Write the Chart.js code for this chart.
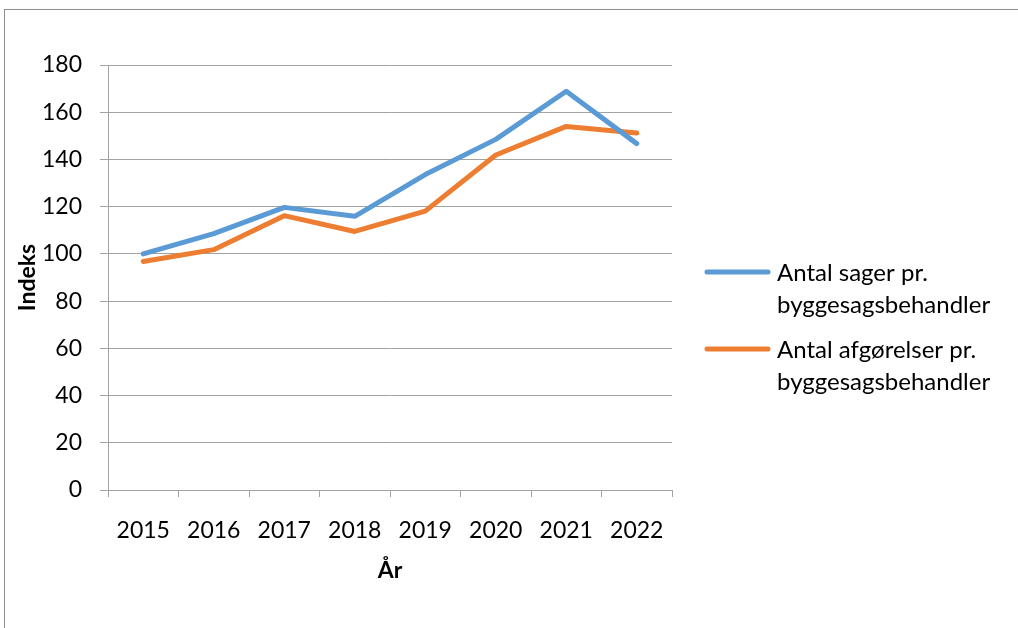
<!DOCTYPE html>
<html>
<head>
<meta charset="utf-8">
<script src="https://cdn.jsdelivr.net/npm/chart.js@4.4.0/dist/chart.umd.min.js"></script>
<style>
  html, body { margin: 0; padding: 0; background: #fff; }
</style>
</head>
<body>
<canvas id="chart" width="1018" height="628"></canvas>
<script>
const years = ["2015", "2016", "2017", "2018", "2019", "2020", "2021", "2022"];
const sagerPerBehandler = [100, 108.6, 119.7, 115.9, 133.6, 148.5, 168.9, 146.7];
const afgorelserPerBehandler = [96.8, 101.8, 116.2, 109.5, 118.1, 141.9, 154.0, 151.2];
const yTicks = [0, 20, 40, 60, 80, 100, 120, 140, 160, 180];
const seriesNames = [
  ["Antal sager pr.", "byggesagsbehandler"],
  ["Antal afgørelser pr.", "byggesagsbehandler"]
];

const FONT = "Lato";
const GRID = "#a3a3a3";

// ramme rundt om diagrammet
const frame = {
  id: "frame",
  beforeDraw(chart) {
    const { ctx } = chart;
    ctx.save();
    ctx.fillStyle = "#fff";
    ctx.fillRect(0, 0, chart.width, chart.height);
    ctx.strokeStyle = "#8f8f8f";
    ctx.lineWidth = 1;
    ctx.strokeRect(4.5, 9.5, chart.width + 20, chart.height + 20);
    ctx.restore();
  }
};

// legende til højre, to linjer pr. serie
const sideLegend = {
  id: "sideLegend",
  afterDraw(chart) {
    const { ctx } = chart;
    ctx.save();
    chart.data.datasets.forEach((ds, i) => {
      const y = 272 + i * 77;
      ctx.strokeStyle = ds.borderColor;
      ctx.lineWidth = 5;
      ctx.lineCap = "round";
      ctx.beginPath();
      ctx.moveTo(707, y);
      ctx.lineTo(768, y);
      ctx.stroke();
      ctx.fillStyle = "#000";
      ctx.font = `24px ${FONT}`;
      ctx.textBaseline = "middle";
      seriesNames[i].forEach((t, j) => ctx.fillText(t, 777, y + 1 + j * 32));
    });
    ctx.restore();
  }
};

new Chart(document.getElementById("chart"), {
  type: "line",
  data: {
    labels: years,
    datasets: [
      {
        label: seriesNames[0].join(" "),
        data: sagerPerBehandler,
        borderColor: "#5b9bd5",
        borderWidth: 5,
        borderCapStyle: "round",
        borderJoinStyle: "round",
        pointRadius: 0,
        tension: 0
      },
      {
        label: seriesNames[1].join(" "),
        data: afgorelserPerBehandler,
        borderColor: "#ed7d31",
        borderWidth: 5,
        borderCapStyle: "round",
        borderJoinStyle: "round",
        pointRadius: 0,
        tension: 0
      }
    ]
  },
  options: {
    responsive: false,
    animation: false,
    devicePixelRatio: 1,
    layout: { padding: { left: 0, top: 65, right: 346, bottom: 38 } },
    plugins: {
      legend: { display: false },
      tooltip: { enabled: false }
    },
    scales: {
      x: {
        type: "category",
        offset: true,
        afterFit(scale) { scale.height = 100; },
        grid: { drawOnChartArea: false, offset: true, drawTicks: true, tickLength: 7, color: GRID },
        border: { display: true, color: GRID },
        ticks: { color: "#000", font: { family: FONT, size: 23 }, padding: 20, maxRotation: 0 },
        title: {
          display: true,
          text: "År",
          color: "#000",
          font: { family: FONT, size: 23, weight: "bold" },
          padding: { top: 0, bottom: 6 }
        }
      },
      y: {
        min: 0,
        max: 180,
        afterBuildTicks(scale) { scale.ticks = yTicks.map(v => ({ value: v })); },
        afterFit(scale) { scale.width = 108; },
        grid: { color: GRID, tickLength: 8 },
        border: { display: true, color: GRID },
        ticks: { color: "#000", font: { family: FONT, size: 23 }, padding: 18 },
        title: {
          display: true,
          text: "Indeks",
          color: "#000",
          font: { family: FONT, size: 23, weight: "bold" },
          padding: { top: 14, bottom: 0 }
        }
      }
    }
  },
  plugins: [frame, sideLegend]
});
</script>
</body>
</html>
